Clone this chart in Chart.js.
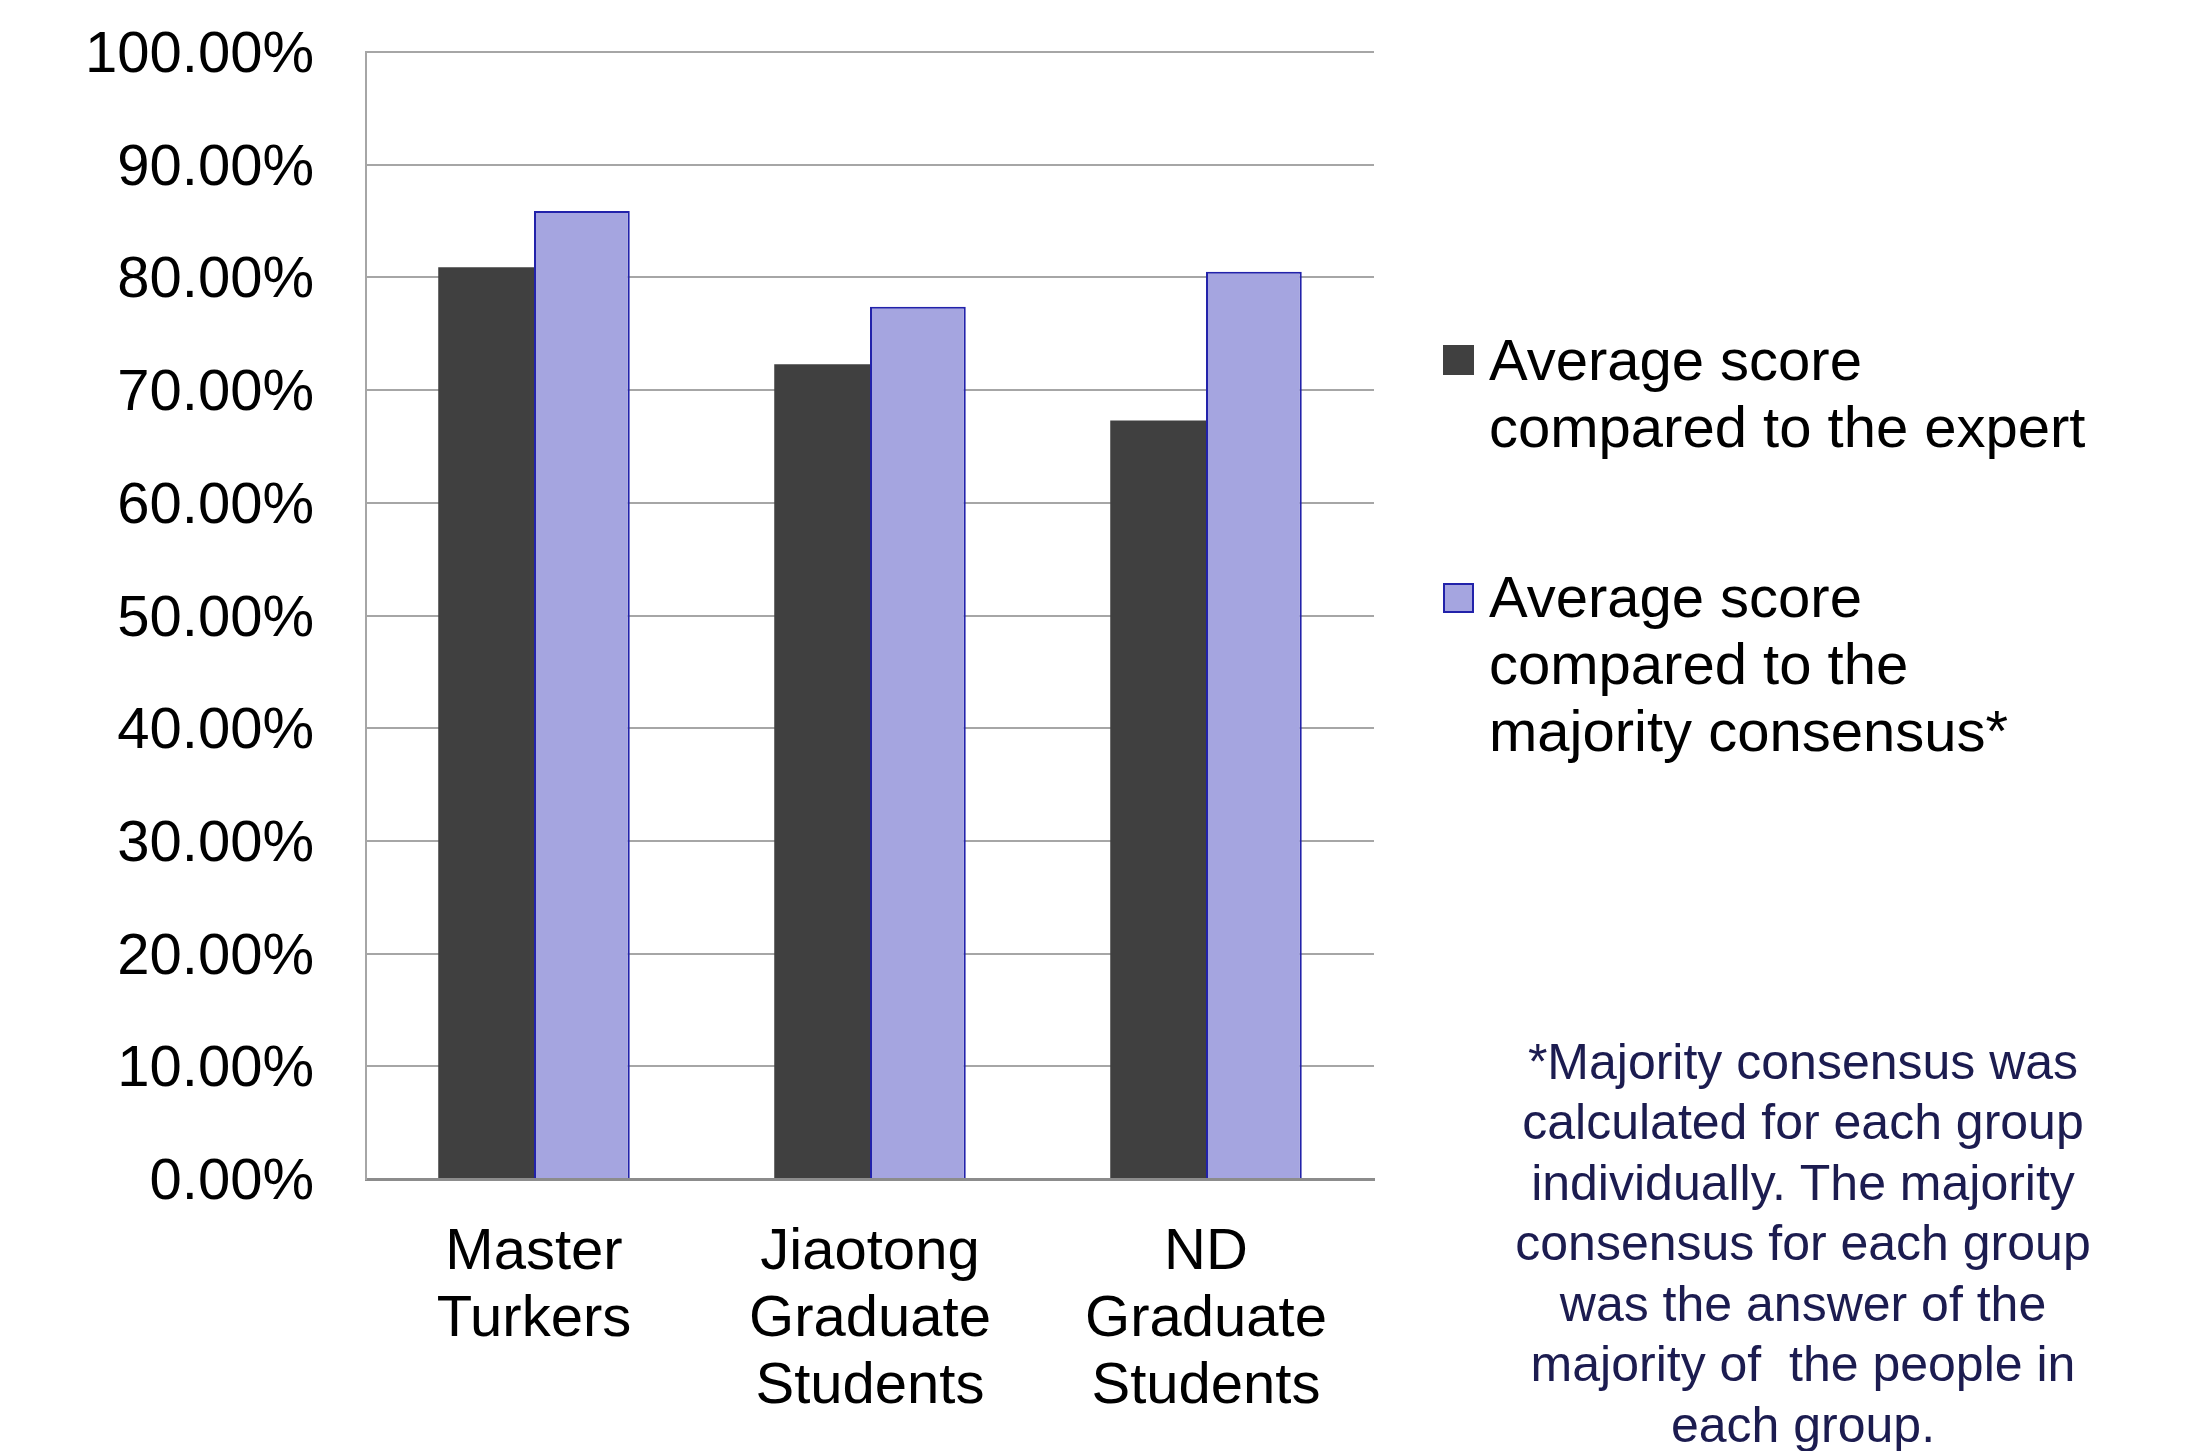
<!DOCTYPE html>
<html>
<head>
<meta charset="utf-8">
<script src="https://cdn.jsdelivr.net/npm/chart.js@4"></script>
<style>
  html, body { margin: 0; padding: 0; background: #fff; }
  #wrap { width: 2190px; height: 1451px; position: relative; }
</style>
</head>
<body>
<div id="wrap"><canvas id="barChart" width="2190" height="1451"></canvas></div>
<script>
const groups = [
  ["Master", "Turkers"],
  ["Jiaotong", "Graduate", "Students"],
  ["ND", "Graduate", "Students"]
];

const expertScores = [80.9, 72.3, 67.3];
const consensusScores = [85.9, 77.4, 80.5];

const expertLabel = ["Average score", "compared to the expert"];
const consensusLabel = ["Average score", "compared to the", "majority consensus*"];

const footnote = [
  "*Majority consensus was",
  "calculated for each group",
  "individually. The majority",
  "consensus for each group",
  "was the answer of the",
  "majority of  the people in",
  "each group."
];

const FONT = "'Liberation Sans', Arial, sans-serif";

// legend + footnote drawn on the canvas
const sidePlugin = {
  id: 'side',
  afterDraw(chart) {
    const ctx = chart.ctx;
    ctx.save();
    ctx.font = '58px ' + FONT;
    ctx.textBaseline = 'middle';
    ctx.textAlign = 'left';

    const items = [
      { lines: expertLabel, top: 345, y0: 364 },
      { lines: consensusLabel, top: 583, y0: 601 }
    ];
    items.forEach((it, i) => {
      const ds = chart.data.datasets[i];
      ctx.fillStyle = ds.backgroundColor;
      ctx.fillRect(1443, it.top, 31, 30);
      if (ds.borderWidth) {
        ctx.strokeStyle = ds.borderColor;
        ctx.lineWidth = 2;
        ctx.strokeRect(1444, it.top + 1, 29, 28);
      }
      ctx.fillStyle = '#000';
      it.lines.forEach((t, k) => ctx.fillText(t, 1489, it.y0 + k * 67));
    });

    ctx.font = '50px ' + FONT;
    ctx.fillStyle = '#1c1c50';
    ctx.textAlign = 'center';
    footnote.forEach((t, k) => ctx.fillText(t, 1803, 1065 + k * 60.5));
    ctx.restore();
  }
};

const barCtx = document.getElementById('barChart').getContext('2d');
const barChart = new Chart(barCtx, {
  type: 'bar',
  data: {
    labels: groups,
    datasets: [{
      label: expertLabel.join(' '),
      data: expertScores,
      backgroundColor: '#404040',
      borderWidth: 0
    }, {
      label: consensusLabel.join(' '),
      data: consensusScores,
      backgroundColor: '#a5a5e0',
      borderColor: '#2222aa',
      borderWidth: 2
    }]
  },
  options: {
    responsive: false,
    animation: false,
    devicePixelRatio: 1,
    layout: { padding: { left: 0, top: 52, right: 816, bottom: 0 } },
    datasets: { bar: { categoryPercentage: 0.57, barPercentage: 1.0 } },
    plugins: { legend: { display: false }, tooltip: { enabled: false } },
    scales: {
      x: {
        grid: { display: false, drawTicks: false },
        border: { color: '#8c8c8c', width: 3 },
        ticks: {
          color: '#000',
          font: { family: FONT, size: 58, lineHeight: 1.16 },
          padding: 40,
          maxRotation: 0
        },
        afterFit(scale) { scale.height = 272; scale.paddingLeft = 0; scale.paddingRight = 0; }
      },
      y: {
        min: 0,
        max: 100,
        grid: { color: '#a6a6a6', lineWidth: 2, drawTicks: false },
        border: { color: '#a6a6a6', width: 2 },
        ticks: {
          stepSize: 10,
          color: '#000',
          font: { family: FONT, size: 58 },
          padding: 52,
          labelOffset: 4,
          callback: v => v.toFixed(2) + '%'
        },
        afterFit(scale) { scale.width = 366; scale.paddingTop = 0; scale.paddingBottom = 0; }
      }
    }
  },
  plugins: [sidePlugin]
});
</script>
</body>
</html>
